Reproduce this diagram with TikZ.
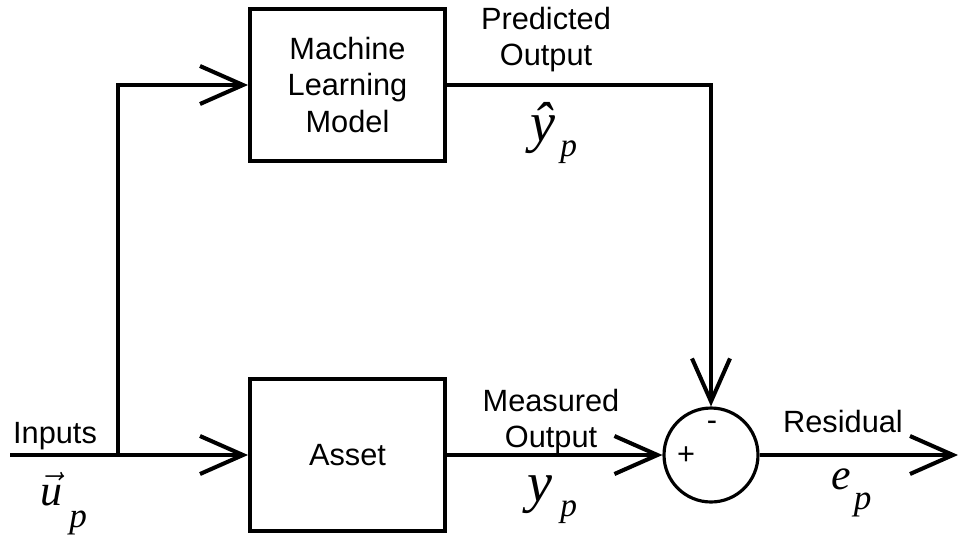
\documentclass[tikz,border=0pt]{standalone}
\usepackage{fontspec}
\setmainfont{Liberation Sans}
\newfontfamily\symfont{Liberation Serif}
\usetikzlibrary{positioning, arrows.meta}
\tikzstyle{Block} = [
draw, line width=2.3pt,
minimum width=3.9cm, minimum height=3.04cm,
align=center, font=\fontsize{17.5}{20.5}\selectfont]
\tikzstyle{Sum} = [draw, circle, line width=1.8pt,
minimum size=1.88cm, inner sep=0pt]
\tikzstyle{Signal} = [
line width=2.3pt,
-{Straight Barb[length=0.86cm, width=0.76cm]}]
\tikzstyle{Tag} = [inner sep=0pt, align=center,
font=\fontsize{17.5}{20.5}\selectfont]
\tikzstyle{Sym} = [inner sep=0pt, anchor=base west]
\newcommand{\bigsym}[2]{{\symfont\itshape\fontsize{#1}{#1}\selectfont #2}}
\newcommand{\subp}[2]{\raisebox{-#1}{\symfont\itshape\fontsize{#2}{#2}\selectfont p}}

\begin{document}
\begin{tikzpicture}[x=0.02cm, y=-0.02cm]
    \useasboundingbox (0,0) rectangle (960,535);
    % blocks
    \node[Block] (model) at (347.5,85) {Machine\\Learning\\Model};
    \node[Block] (asset) at (347.5,455) {Asset};
    \node[Sum] (sum) at (711,455) {};
    \coordinate (in) at (10,455);
    \coordinate (split) at (118,455);
    \coordinate (out) at (958,455);
    % signals
    \draw[Signal] (in) -- (asset.west);
    \draw[Signal] (split) |- (model.west);
    \draw[Signal] (model.east) -| (sum.north);
    \draw[Signal] (asset.east) -- (sum.west);
    \draw[Signal] (sum.east) -- (out);
    % labels
    \node[Tag, anchor=base] (inputs) at (55,443) {Inputs};
    \node[Tag] (predicted) at (546,40) {Predicted\\Output};
    \node[Tag] (measured) at (551,422) {Measured\\Output};
    \node[Tag, anchor=base] (residual) at (843,432) {Residual};
    \node[Tag] (plus) at (686,456) {+};
    \node[Tag, anchor=base] (minus) at (712,430) {-};
    % symbols
    \node[Sym] (uvec) at (40,505)
        {{\fontsize{25}{25}\selectfont$\vec{\hbox{\symfont\itshape u}}$}\kern0.14cm\subp{0.44cm}{20}};
    \node[Sym] (yhat) at (530,141) {\bigsym{32}{\^y}\kern0.1cm\subp{0.3cm}{19}};
    \node[Sym] (ymeas) at (527,501) {\bigsym{32}{y}\kern0.16cm\subp{0.3cm}{19}};
    \node[Sym] (resid) at (831,489) {\bigsym{25}{e}\kern0.06cm\subp{0.4cm}{20}};
\end{tikzpicture}
\end{document}
